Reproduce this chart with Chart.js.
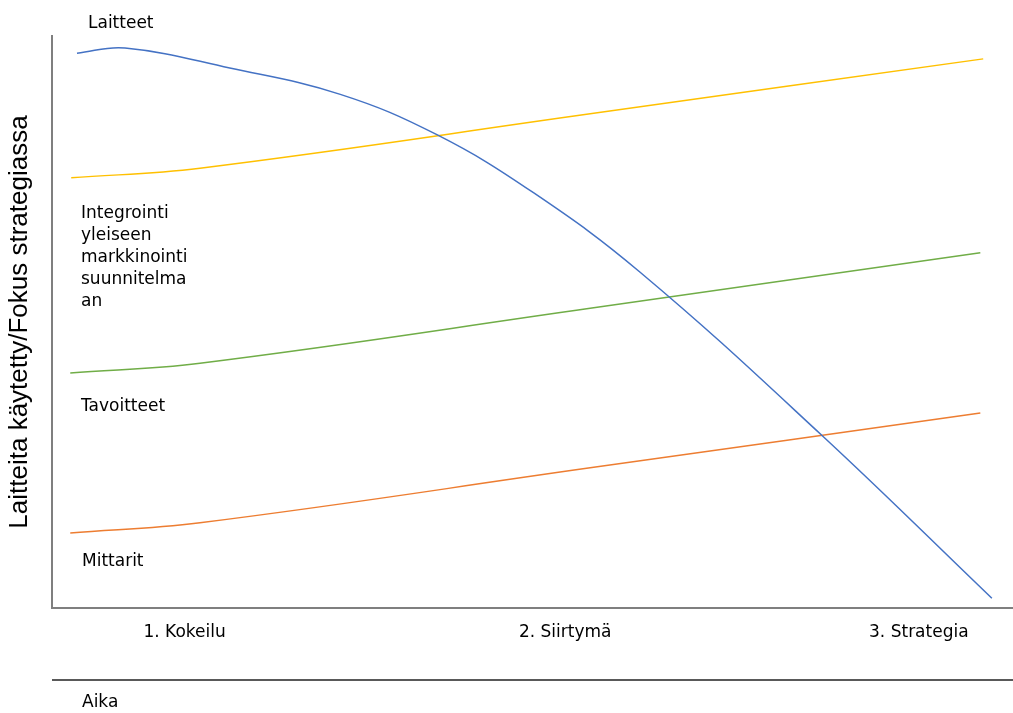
<!DOCTYPE html>
<html>
<head>
<meta charset="utf-8">
<script src="https://cdn.jsdelivr.net/npm/chart.js@4"></script>
<style>
  body { margin: 0; background: #fff; }
  #wrap { position: relative; width: 1013px; height: 713px; }
  .lbl { position: absolute; font-family: "DejaVu Sans", sans-serif; font-size: 17px; line-height: 22px; color: #000; }
</style>
</head>
<body>
<div id="wrap">
  <canvas id="chart" width="1013" height="713"></canvas>
  <div class="lbl" style="left:88px; top:11px;">Laitteet</div>
  <div class="lbl" style="left:81px; top:201px;">Integrointi<br>yleiseen<br>markkinointi<br>suunnitelma<br>an</div>
  <div class="lbl" style="left:81px; top:394px;">Tavoitteet</div>
  <div class="lbl" style="left:82px; top:549px;">Mittarit</div>
</div>
<script>
// vaiheet x-akselilla
const phaseLabels = ['1. Kokeilu', '2. Siirtymä', '3. Strategia']
const phasePos = [13.8, 53.4, 90.2]

// luettu kuvasta (x 0-100, y 0-100)
const laitteet = [
    {x: 2.6, y: 97.0}, {x: 7.6, y: 97.9}, {x: 18.5, y: 94.4}, {x: 30.0, y: 89.8},
    {x: 40.1, y: 82.7}, {x: 50.1, y: 72.6}, {x: 61.2, y: 58.7}, {x: 80.1, y: 30.2},
    {x: 97.8, y: 1.7}
]
const integrointi = [{x: 2.0, y: 75.2}, {x: 15.4, y: 76.9}, {x: 56.0, y: 86.4}, {x: 96.9, y: 96.0}]
const tavoitteet = [{x: 1.9, y: 41.1}, {x: 15.4, y: 42.8}, {x: 56.0, y: 52.4}, {x: 96.6, y: 62.1}]
const mittarit = [{x: 1.9, y: 13.1}, {x: 15.4, y: 14.9}, {x: 56.0, y: 24.5}, {x: 96.6, y: 34.1}]

const font = 'DejaVu Sans'

// vaaka viiva ja "Aika" teksti
const aikaPlugin = {
    id: 'aika',
    afterDraw(chart) {
        const ctx = chart.ctx
        const a = chart.chartArea
        ctx.save()
        ctx.strokeStyle = '#222'
        ctx.lineWidth = 1.5
        ctx.beginPath()
        ctx.moveTo(a.left, a.bottom + 72)
        ctx.lineTo(chart.width, a.bottom + 72)
        ctx.stroke()
        ctx.fillStyle = '#000'
        ctx.font = '17px "' + font + '"'
        ctx.textBaseline = 'middle'
        ctx.fillText('Aika', a.left + 30, a.bottom + 95)
        ctx.restore()
    }
}

function line(label, data, color) {
    return {
        label: label,
        data: data,
        borderColor: color,
        borderWidth: 1.5,
        pointRadius: 0,
        fill: false,
        tension: 0.4
    }
}

new Chart(document.getElementById('chart'), {
    type: 'line',
    data: {
        datasets: [
            line('Laitteet', laitteet, '#4472C4'),
            line('Integrointi yleiseen markkinointisuunnitelmaan', integrointi, '#FFC000'),
            line('Tavoitteet', tavoitteet, '#70AD47'),
            line('Mittarit', mittarit, '#ED7D31')
        ]
    },
    options: {
        responsive: false,
        animation: false,
        layout: { padding: { top: 36, right: 0, bottom: 0, left: 0 } },
        plugins: {
            legend: { display: false },
            tooltip: { enabled: false }
        },
        scales: {
            x: {
                type: 'linear',
                min: 0,
                max: 100,
                grid: { display: false, drawTicks: false },
                border: { display: true, color: '#7f7f7f', width: 2 },
                afterBuildTicks: (axis) => {
                    axis.ticks = phasePos.map(v => ({ value: v }))
                },
                afterFit: (axis) => { axis.height = 105 },
                ticks: {
                    padding: 14,
                    color: '#000',
                    font: { family: font, size: 17 },
                    maxRotation: 0,
                    autoSkip: false,
                    callback: (v, i) => phaseLabels[i]
                }
            },
            y: {
                min: 0,
                max: 100,
                grid: { display: false, drawTicks: false },
                border: { display: true, color: '#7f7f7f', width: 2 },
                ticks: { display: false },
                afterFit: (axis) => { axis.width = 52 },
                title: {
                    display: true,
                    text: 'Laitteita käytetty/Fokus strategiassa',
                    color: '#000',
                    font: { family: 'Liberation Sans', size: 26 },
                    padding: { top: 4, bottom: 0 }
                }
            }
        }
    },
    plugins: [aikaPlugin]
})
</script>
</body>
</html>
